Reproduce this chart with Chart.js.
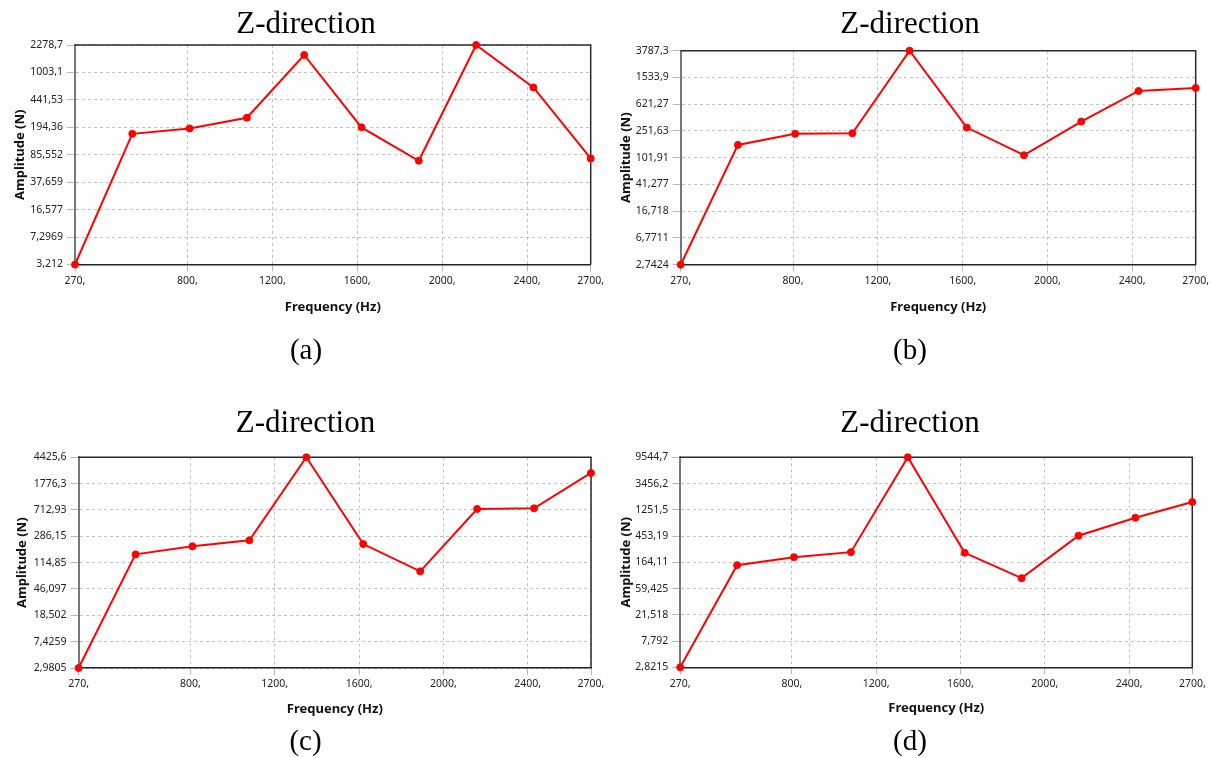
<!DOCTYPE html>
<html>
<head>
<meta charset="utf-8">
<script src="https://cdn.jsdelivr.net/npm/chart.js@4.4.0/dist/chart.umd.min.js"></script>
<style>
  html, body { margin: 0; padding: 0; background: #fff; }
  body { width: 1212px; height: 758px; position: relative; overflow: hidden; }
  .panel { position: absolute; width: 606px; height: 379px; }
  canvas { display: block; }
</style>
</head>
<body>
<div class="panel" style="left:0;top:0"><canvas id="chartA" width="606" height="379"></canvas></div>
<div class="panel" style="left:606px;top:0"><canvas id="chartB" width="606" height="379"></canvas></div>
<div class="panel" style="left:0;top:379px"><canvas id="chartC" width="606" height="379"></canvas></div>
<div class="panel" style="left:606px;top:379px"><canvas id="chartD" width="606" height="379"></canvas></div>
<script>
// Frequencies (Hz) of the computed points
const frequencies = [270, 540, 810, 1080, 1350, 1620, 1890, 2160, 2430, 2700];
const xTicks = [270, 800, 1200, 1600, 2000, 2400, 2700];
const xTickLabels = ['270,', '800,', '1200,', '1600,', '2000,', '2400,', '2700,'];

// Amplitude (N) for each panel
const ampA = [3.212, 160, 188, 259, 1690, 194, 71.5, 2278.7, 641, 76.7];
const ampB = [2.7424, 157, 228, 233, 3787.3, 282, 111, 345, 971, 1074];
const ampC = [2.9805, 153, 202, 249, 4425.6, 219, 85, 738, 755, 2572];
const ampD = [2.8215, 147, 200, 243, 9544.7, 237, 88.8, 458, 920, 1691];

// Y tick labels, bottom to top
const yLabelsA = ['3,212', '7,2969', '16,577', '37,659', '85,552', '194,36', '441,53', '1003,1', '2278,7'];
const yLabelsB = ['2,7424', '6,7711', '16,718', '41,277', '101,91', '251,63', '621,27', '1533,9', '3787,3'];
const yLabelsC = ['2,9805', '7,4259', '18,502', '46,097', '114,85', '286,15', '712,93', '1776,3', '4425,6'];
const yLabelsD = ['2,8215', '7,792', '21,518', '59,425', '164,11', '453,19', '1251,5', '3456,2', '9544,7'];

const titleText = 'Z-direction';
const captions = ['(a)', '(b)', '(c)', '(d)'];

// Placement of each plot inside its canvas (pixels)
const panelLayout = [
  { id: 'chartA', left: 75, top: 45, right: 590.7, bottom: 264.5, textX: 306, titleY: 32.5, captionY: 359, yTitleX: 20, xTitleY: 307 },
  { id: 'chartB', left: 74.7, top: 50.7, right: 589.7, bottom: 264.7, textX: 304, titleY: 32.5, captionY: 359, yTitleX: 20, xTitleY: 307 },
  { id: 'chartC', left: 78.6, top: 78.3, right: 591, bottom: 289, textX: 305.5, titleY: 53.3, captionY: 371, yTitleX: 22.5, xTitleY: 330 },
  { id: 'chartD', left: 74.2, top: 78.3, right: 586.3, bottom: 288.3, textX: 304, titleY: 52.8, captionY: 371, yTitleX: 20, xTitleY: 329 }
];

const tickFont = { family: '"Noto Sans", sans-serif', size: 10.5 };
const axisTitleFont = { family: '"Noto Sans", sans-serif', size: 13, weight: 'bold' };

// '2278,7' -> 2278.7
function toNumber(label) {
  return parseFloat(label.replace(',', '.'));
}

// Box around the plot, title and caption
const panelText = {
  id: 'panelText',
  beforeDatasetsDraw(chart) {
    const { ctx, chartArea: a } = chart;
    ctx.save();
    ctx.strokeStyle = '#2a2a2a';
    ctx.lineWidth = 1.5;
    ctx.beginPath();
    ctx.moveTo(a.left, a.top);
    ctx.lineTo(a.right, a.top);
    ctx.lineTo(a.right, a.bottom);
    ctx.stroke();
    ctx.restore();
  },
  afterDraw(chart, args, opts) {
    const ctx = chart.ctx;
    ctx.save();
    ctx.fillStyle = '#000';
    ctx.textAlign = 'center';
    ctx.textBaseline = 'alphabetic';
    ctx.font = '31px "Liberation Serif", "Times New Roman", serif';
    ctx.fillText(opts.title, opts.x, opts.titleY);
    ctx.font = '29px "Liberation Serif", "Times New Roman", serif';
    ctx.fillText(opts.caption, opts.x, opts.captionY);
    ctx.restore();
  }
};

function makeChart(layout, amplitudes, yLabels, caption) {
  const yValues = yLabels.map(toNumber);
  const lh = axisTitleFont.size * 1.2;
  const ctx = document.getElementById(layout.id).getContext('2d');
  return new Chart(ctx, {
    type: 'line',
    data: {
      datasets: [{
        data: frequencies.map((f, i) => ({ x: f, y: amplitudes[i] })),
        borderColor: '#ff0000',
        backgroundColor: '#ff0000',
        borderWidth: 2,
        pointRadius: 3.5,
        pointBorderWidth: 1,
        pointHoverRadius: 3.5,
        tension: 0,
        clip: false
      }]
    },
    options: {
      responsive: false,
      animation: false,
      events: [],
      layout: { padding: { left: 0, top: layout.top, right: 606 - layout.right, bottom: 0 } },
      plugins: {
        legend: { display: false },
        tooltip: { enabled: false },
        panelText: { title: titleText, caption: caption, x: layout.textX, titleY: layout.titleY, captionY: layout.captionY }
      },
      scales: {
        x: {
          type: 'linear',
          min: 270,
          max: 2700,
          afterBuildTicks: s => { s.ticks = xTicks.map(v => ({ value: v })); },
          afterFit: s => { s.height = 379 - layout.bottom; s.paddingLeft = 0; s.paddingRight = 0; },
          ticks: {
            autoSkip: false, maxRotation: 0, minRotation: 0, padding: 3,
            color: '#222', font: tickFont,
            callback: (v, i) => xTickLabels[i]
          },
          grid: { color: '#c2c2c2', tickColor: '#b8b8b8', tickLength: 7, lineWidth: 1 },
          border: { color: '#222', width: 1.5, dash: [3, 3] },
          title: {
            display: true, text: 'Frequency (Hz)', color: '#111', font: axisTitleFont,
            padding: { top: 0, bottom: 379 - layout.xTitleY - lh / 2 }
          }
        },
        y: {
          type: 'logarithmic',
          min: yValues[0],
          max: yValues[yValues.length - 1],
          bounds: 'data',
          afterBuildTicks: s => { s.ticks = yValues.map(v => ({ value: v })); },
          afterFit: s => { s.width = layout.left; s.paddingTop = 0; s.paddingBottom = 0; },
          ticks: {
            autoSkip: false, padding: 4,
            color: '#222', font: tickFont,
            callback: (v, i) => yLabels[i]
          },
          grid: { color: '#c2c2c2', tickColor: '#b8b8b8', tickLength: 8, lineWidth: 1 },
          border: { color: '#777', width: 2, dash: [3, 3] },
          title: {
            display: true, text: 'Amplitude (N)', color: '#111', font: axisTitleFont,
            padding: { top: layout.yTitleX - lh / 2, bottom: 0 }
          }
        }
      }
    },
    plugins: [panelText]
  });
}

const chartA = makeChart(panelLayout[0], ampA, yLabelsA, captions[0]);
const chartB = makeChart(panelLayout[1], ampB, yLabelsB, captions[1]);
const chartC = makeChart(panelLayout[2], ampC, yLabelsC, captions[2]);
const chartD = makeChart(panelLayout[3], ampD, yLabelsD, captions[3]);
</script>
</body>
</html>
